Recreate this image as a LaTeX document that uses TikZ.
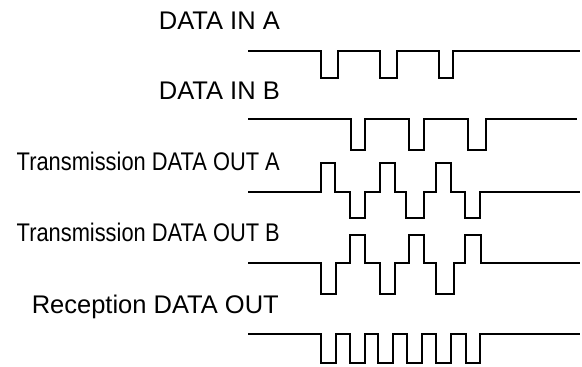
\documentclass[tikz,border=0pt]{standalone}
\usepackage{fontspec}
\setmainfont{Liberation Sans}
\usepackage{graphicx}

\tikzset{
    label/.style={anchor=base east, inner sep=0pt, font=\fontsize{25.5}{30}\selectfont},
    wave/.style={line width=1.1pt, line join=miter},
}
\newcommand{\narrowtext}[1]{\scalebox{0.857}[1]{#1}}

\begin{document}
\begin{tikzpicture}[x=1pt, y=-1pt]
                \useasboundingbox (0,0) rectangle (582,367);
                \node[label] (lblA) at (280,29.3) {DATA IN A};
                \node[label] (lblB) at (280,99.3) {DATA IN B};
                \node[label] (lblTxA) at (280,170) {\narrowtext{Transmission DATA OUT A}};
                \node[label] (lblTxB) at (280,241.7) {\narrowtext{Transmission DATA OUT B}};
                \node[label] (lblRx) at (279,313.3) {Reception DATA OUT};
                % data in
                \draw[wave] (248,51) -- (321,51) -- (321,78) -- (338,78) -- (338,51) -- (380,51) -- (380,78) -- (397,78) -- (397,51)
                    -- (439,51) -- (439,78) -- (453,78) -- (453,51) -- (580,51);
                \draw[wave] (248,119) -- (351,119) -- (351,150) -- (365,150) -- (365,119) -- (409,119) -- (409,150) -- (424,150) -- (424,119)
                    -- (468,119) -- (468,150) -- (486,150) -- (486,119) -- (577,119);
                % transmission out
                \draw[wave] (248,192) -- (321,192) -- (321,163) -- (335,163) -- (335,192) -- (350,192) -- (350,218) -- (365,218) -- (365,192)
                    -- (380,192) -- (380,163) -- (395,163) -- (395,192) -- (406,192) -- (406,218) -- (424,218) -- (424,192)
                    -- (436,192) -- (436,163) -- (451,163) -- (451,192) -- (465,192) -- (465,218) -- (480,218) -- (480,192) -- (580,192);
                \draw[wave] (248,263) -- (321,263) -- (321,294) -- (336,294) -- (336,263) -- (350,263) -- (350,235) -- (365,235) -- (365,263)
                    -- (380,263) -- (380,294) -- (395,294) -- (395,263) -- (409,263) -- (409,235) -- (424,235) -- (424,263)
                    -- (436,263) -- (436,294) -- (454,294) -- (454,263) -- (465,263) -- (465,235) -- (481,235) -- (481,263) -- (580,263);
                % reception out
                \draw[wave] (248,334) -- (321,334) -- (321,363) -- (336,363) -- (336,334) -- (350,334) -- (350,363) -- (365,363) -- (365,334)
                    -- (378,334) -- (378,363) -- (393,363) -- (393,334) -- (407,334) -- (407,363) -- (422,363) -- (422,334)
                    -- (436,334) -- (436,363) -- (451,363) -- (451,334) -- (466,334) -- (466,363) -- (480,363) -- (480,334) -- (580,334);
            \end{tikzpicture}
\end{document}
